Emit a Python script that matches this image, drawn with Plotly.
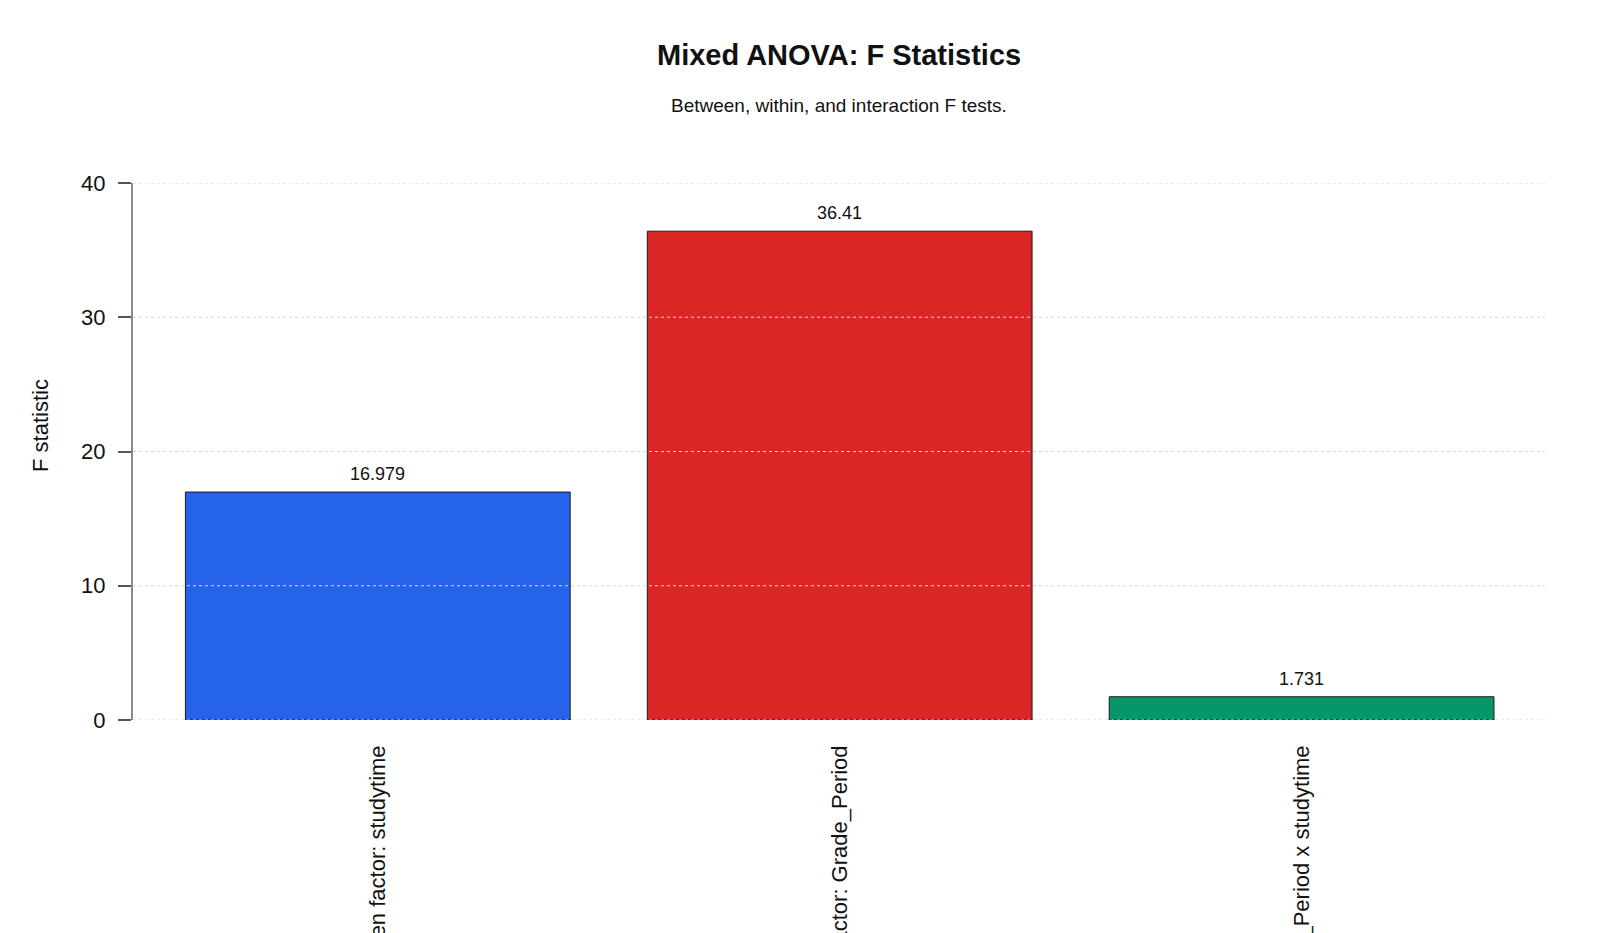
import plotly.graph_objects as go

categories = ["Between factor: studytime", "Within factor: Grade_Period", "Interaction: Grade_Period x studytime"]
f_values = [16.979, 36.41, 1.731]
value_labels = ["16.979", "36.41", "1.731"]
bar_colors = ["#2563EB", "#DC2626", "#059669"]
y_ticks = [0, 10, 20, 30, 40]

FONT = "Liberation Sans, Arial, sans-serif"

fig = go.Figure()
fig.add_trace(go.Bar(
    x=list(range(len(categories))),
    y=f_values,
    marker=dict(color=bar_colors, line=dict(color="#1a1a1a", width=1)),
    width=0.833,
    hoverinfo="y",
    showlegend=False,
))

for i, (v, lab) in enumerate(zip(f_values, value_labels)):
    fig.add_annotation(x=i, y=v, text=lab, showarrow=False, yanchor="bottom",
                       yshift=6, font=dict(family=FONT, size=18, color="#111"))

for t in y_ticks:
    fig.add_shape(type="line", xref="paper", x0=0, x1=1, yref="y", y0=t, y1=t,
                  line=dict(color="#d4d4d4", width=1, dash="dot"), layer="above")

fig.add_annotation(xref="paper", yref="paper", x=0.5, y=1, yshift=128, text="<b>Mixed ANOVA: F Statistics</b>",
                   showarrow=False, yanchor="middle", font=dict(family=FONT, size=29, color="#111"))
fig.add_annotation(xref="paper", yref="paper", x=0.5, y=1, yshift=78, text="Between, within, and interaction F tests.",
                   showarrow=False, yanchor="middle", font=dict(family=FONT, size=19, color="#111"))
fig.add_annotation(xref="paper", yref="paper", x=-0.065, y=0.548, text="F statistic", textangle=-90,
                   showarrow=False, xanchor="center", yanchor="middle",
                   font=dict(family=FONT, size=22, color="#111"))

fig.update_layout(
    width=1600, height=933,
    margin=dict(l=133, r=55, t=182.5, b=213),
    plot_bgcolor="white", paper_bgcolor="white",
    font=dict(family=FONT, color="#111"),
    xaxis=dict(
        range=[-0.53, 2.527], automargin=False,
        tickmode="array", tickvals=list(range(len(categories))), ticktext=categories,
        tickangle=-90, showgrid=False, showline=False, zeroline=False, ticks="",
        tickfont=dict(family=FONT, size=22, color="#111"),
        ticklabelstandoff=20,
    ),
    yaxis=dict(
        range=[0, 40], tickmode="array", tickvals=y_ticks, automargin=False,
        showgrid=False, zeroline=False,
        showline=True, linecolor="#8a8a8a", linewidth=2,
        ticks="outside", ticklen=13, tickcolor="#555", tickwidth=1.5,
        tickfont=dict(family=FONT, size=22, color="#111"),
        ticklabelstandoff=8,
    ),
)

fig.write_html("out.html")
